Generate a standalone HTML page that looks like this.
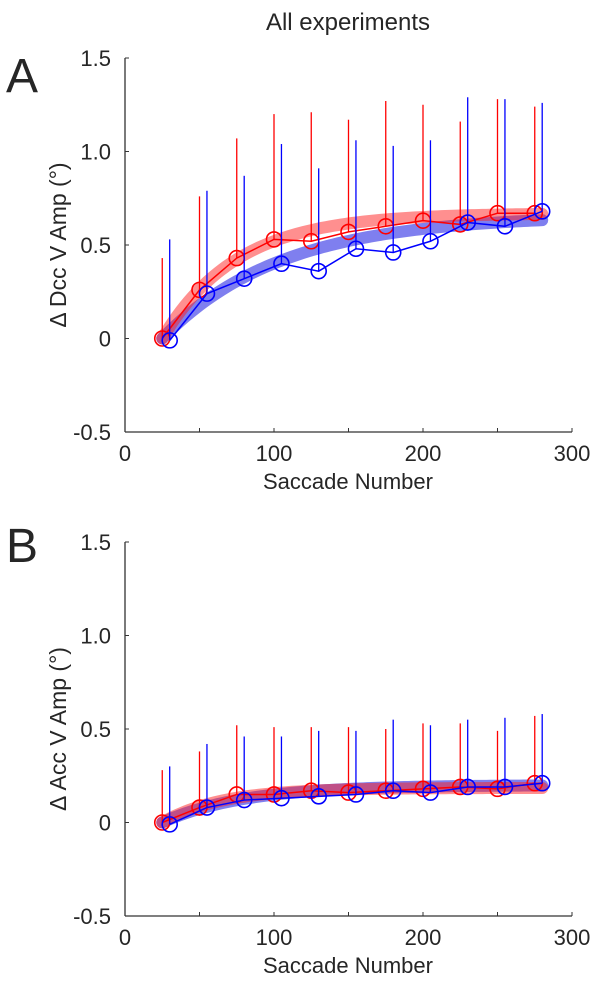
<!DOCTYPE html>
<html><head><meta charset="utf-8"><style>
body{margin:0;background:#fff}
text{font-family:"Liberation Sans",sans-serif;fill:#262626}
</style></head><body>
<svg id="s" width="604" height="993" xmlns="http://www.w3.org/2000/svg">
<text x="348" y="30" font-size="24" text-anchor="middle">All experiments</text>
<text x="6" y="92" font-size="48">A</text>
<text x="6" y="562" font-size="48">B</text>
</svg>
<script>
const xRed=[25,50,75,100,125,150,175,200,225,250,275];
const xBlue=[30,55,80,105,130,155,180,205,230,255,280];
const aRed=[0,0.26,0.43,0.53,0.52,0.57,0.60,0.63,0.61,0.67,0.67];
const aRedTop=[0.43,0.76,1.07,1.20,1.21,1.17,1.27,1.25,1.16,1.28,1.24];
const aBlue=[-0.01,0.24,0.32,0.40,0.36,0.48,0.46,0.52,0.62,0.60,0.68];
const aBlueTop=[0.53,0.79,0.87,1.04,0.91,1.06,1.03,1.06,1.29,1.28,1.26];
const aFitRed=[0.67,50];
const aFitBlue=[0.66,80];
const bRed=[0,0.08,0.15,0.15,0.17,0.16,0.17,0.18,0.19,0.18,0.21];
const bRedTop=[0.28,0.38,0.52,0.51,0.51,0.51,0.50,0.53,0.53,0.49,0.57];
const bBlue=[-0.01,0.08,0.12,0.13,0.14,0.15,0.17,0.16,0.19,0.19,0.21];
const bBlueTop=[0.30,0.42,0.46,0.46,0.49,0.49,0.55,0.52,0.55,0.56,0.58];
const bFitRed=[0.185,40];
const bFitBlue=[0.20,55];
const xTicks=[0,100,200,300];
const xMinor=[0,50,100,150,200,250,300];
const yTicks=[-0.5,0,0.5,1.0,1.5];
const yLabels=["-0.5","0","0.5","1.0","1.5"];
const NS="http://www.w3.org/2000/svg";
const svg=document.getElementById('s');
function mk(t,at,p){const e=document.createElementNS(NS,t);for(const k in at)e.setAttribute(k,at[k]);(p||svg).appendChild(e);return e;}
function panel(id,top,bot,yl,R,RT,B,BT,FR,FB){
  const g=mk('g',{});
  
  
  const X=v=>125+v*(447/300);
  const Y=v=>bot-(v+0.5)*(bot-top)/2;
  mk('line',{x1:125,y1:top,x2:125,y2:bot,stroke:'#333','stroke-width':1.3},g);
  mk('line',{x1:125,y1:bot,x2:572,y2:bot,stroke:'#333','stroke-width':1.3},g);
  yTicks.forEach((v,i)=>{mk('line',{x1:125,x2:129,y1:Y(v),y2:Y(v),stroke:'#333'},g);
    const t=mk('text',{x:111,y:Y(v)+8,'font-size':22,'text-anchor':'end',fill:'#333'},g);t.textContent=yLabels[i];
    });
  xMinor.forEach(v=>mk('line',{x1:X(v),x2:X(v),y1:bot,y2:bot-4,stroke:'#333'},g));
  xTicks.forEach(v=>{const t=mk('text',{x:X(v),y:bot+29,'font-size':22,'text-anchor':'middle',fill:'#333'},g);t.textContent=v;
    });
  const xt=mk('text',{x:348,y:bot+57,'font-size':22,'text-anchor':'middle'},g);xt.textContent='Saccade Number';
  
  const cy=(top+bot)/2;
  const yt=mk('text',{x:0,y:0,'font-size':23,'text-anchor':'middle',transform:`translate(66,${cy}) rotate(-90)`},g);yt.textContent=yl;
  
  function fit(F,col,name){let d='';for(let x=25;x<=280;x+=2.5){const v=F[0]*(1-Math.exp(-(x-25)/F[1]));d+=(d?'L':'M')+X(x)+','+Y(v);}
    const p=mk('path',{d:d,fill:'none',stroke:col,'stroke-width':12,'stroke-linecap':'round','stroke-opacity':0.5},g);
    }
  fit(FB,'#0000e0','fit-band-blue');fit(FR,'#ff2020','fit-band-red');
  function series(xs,ys,tops,col,name){
    xs.forEach((x,i)=>{const l=mk('line',{x1:X(x),x2:X(x),y1:Y(ys[i]),y2:Y(tops[i]),stroke:col,'stroke-width':1.3},g);
      });
    const p=mk('polyline',{points:xs.map((x,i)=>X(x)+','+Y(ys[i])).join(' '),fill:'none',stroke:col,'stroke-width':1.5},g);
    
    xs.forEach((x,i)=>{const c=mk('circle',{cx:X(x),cy:Y(ys[i]),r:7.5,fill:'none',stroke:col,'stroke-width':1.6},g);
      });
  }
  series(R.x,R.y,RT,'#ff0000','red');
  series(B.x,B.y,BT,'#0000ff','blue');
}
panel('a',58,432,'Δ Dcc V Amp (°)',{x:xRed,y:aRed},aRedTop,{x:xBlue,y:aBlue},aBlueTop,aFitRed,aFitBlue);
panel('b',542,916,'Δ Acc V Amp (°)',{x:xRed,y:bRed},bRedTop,{x:xBlue,y:bBlue},bBlueTop,bFitRed,bFitBlue);
</script>
</body></html>
